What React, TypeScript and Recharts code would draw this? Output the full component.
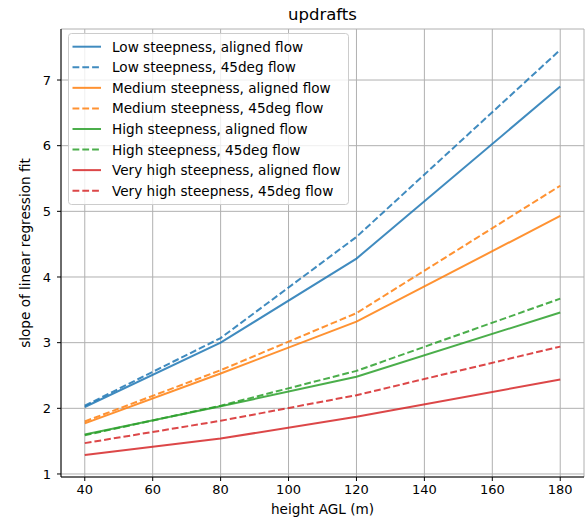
import { LineChart, Line, XAxis, YAxis, CartesianGrid, Legend } from 'recharts';

const heights = [40, 80, 120, 180];

const lowAligned = [2.02, 3.0, 4.28, 6.9];
const low45 = [2.04, 3.07, 4.61, 7.46];
const medAligned = [1.77, 2.53, 3.32, 4.93];
const med45 = [1.8, 2.58, 3.45, 5.39];
const highAligned = [1.6, 2.03, 2.48, 3.46];
const high45 = [1.59, 2.04, 2.57, 3.67];
const vhighAligned = [1.29, 1.54, 1.87, 2.44];
const vhigh45 = [1.47, 1.81, 2.2, 2.94];

const xTicks = [40, 60, 80, 100, 120, 140, 160, 180];
const yTicks = [1, 2, 3, 4, 5, 6, 7];

const DASH = '6.8 3';
const FONT = '"DejaVu Sans", sans-serif';
const LINE_OPACITY = 0.85;

const series = [
  { key: 'lowAligned', name: 'Low steepness, aligned flow', values: lowAligned, color: '#1f77b4', dash: undefined },
  { key: 'low45', name: 'Low steepness, 45deg flow', values: low45, color: '#1f77b4', dash: DASH },
  { key: 'medAligned', name: 'Medium steepness, aligned flow', values: medAligned, color: '#ff7f0e', dash: undefined },
  { key: 'med45', name: 'Medium steepness, 45deg flow', values: med45, color: '#ff7f0e', dash: DASH },
  { key: 'highAligned', name: 'High steepness, aligned flow', values: highAligned, color: '#2ca02c', dash: undefined },
  { key: 'high45', name: 'High steepness, 45deg flow', values: high45, color: '#2ca02c', dash: DASH },
  { key: 'vhighAligned', name: 'Very high steepness, aligned flow', values: vhighAligned, color: '#d62728', dash: undefined },
  { key: 'vhigh45', name: 'Very high steepness, 45deg flow', values: vhigh45, color: '#d62728', dash: DASH },
];

const data = heights.map((h, i) => {
  const row: Record<string, number> = { height: h };
  series.forEach((s) => {
    row[s.key] = s.values[i];
  });
  return row;
});

function LegendBox() {
  return (
    <svg width={281} height={172} style={{ display: 'block' }}>
      <rect x={0.5} y={0.5} width={280} height={171} rx={3} fill="rgba(255,255,255,0.8)" stroke="#cccccc" />
      {series.map((s, i) => {
        const cy = 13.7 + i * 20.57;
        return (
          <g key={s.key}>
            <line
              x1={4.5}
              x2={33}
              y1={cy}
              y2={cy}
              stroke={s.color}
              strokeOpacity={LINE_OPACITY}
              strokeWidth={2}
              strokeDasharray={s.dash}
            />
            <text x={44} y={cy + 5} fontSize={13.6} fill="#000" fontFamily={FONT}>
              {s.name}
            </text>
          </g>
        );
      })}
    </svg>
  );
}

export default function App() {
  return (
    <div style={{ position: 'absolute', left: 0, top: 0, width: 588, height: 521, background: '#fff' }}>
      <LineChart
        width={588}
        height={521}
        data={data}
        margin={{ top: 29, right: 4, bottom: 0, left: 0 }}
        style={{ fontFamily: FONT }}
      >
        <CartesianGrid stroke="#b0b0b0" strokeWidth={1} />
        <XAxis
          dataKey="height"
          type="number"
          domain={[33, 187]}
          ticks={xTicks}
          interval={0}
          height={44}
          tickSize={4}
          tickMargin={4}
          stroke="#000"
          tick={{ fontSize: 13, fill: '#000' }}
        />
        <YAxis
          type="number"
          domain={[0.954, 7.777]}
          ticks={yTicks}
          interval={0}
          width={61}
          tickSize={4}
          tickMargin={6}
          stroke="#000"
          tick={{ fontSize: 13, fill: '#000' }}
        />
        <XAxis xAxisId="top" orientation="top" type="number" domain={[33, 187]} height={0} tick={false} tickLine={false} stroke="#000" />
        <YAxis yAxisId="right" orientation="right" type="number" domain={[0.954, 7.777]} width={0} tick={false} tickLine={false} stroke="#000" />
        {series.map((s) => (
          <Line
            key={s.key}
            type="linear"
            dataKey={s.key}
            name={s.name}
            stroke={s.color}
            strokeOpacity={LINE_OPACITY}
            strokeWidth={2}
            strokeDasharray={s.dash}
            dot={false}
            isAnimationActive={false}
          />
        ))}
        <Legend
          layout="horizontal"
          verticalAlign="middle"
          align="center"
          content={() => <LegendBox />}
          wrapperStyle={{ position: 'absolute', left: 68, top: 33, width: 281, height: 172 }}
        />
      </LineChart>
      <svg
        width={588}
        height={521}
        style={{ position: 'absolute', left: 0, top: 0, pointerEvents: 'none' }}
        fontFamily={FONT}
      >
        <text x={322.5} y={19.5} textAnchor="middle" fontSize={16.5} fill="#000">
          updrafts
        </text>
        <text x={322.5} y={514} textAnchor="middle" fontSize={13.6} fill="#000">
          height AGL (m)
        </text>
        <text x={29.5} y={253} textAnchor="middle" fontSize={13.6} fill="#000" transform="rotate(-90 29.5 253)">
          slope of linear regression fit
        </text>
      </svg>
    </div>
  );
}
